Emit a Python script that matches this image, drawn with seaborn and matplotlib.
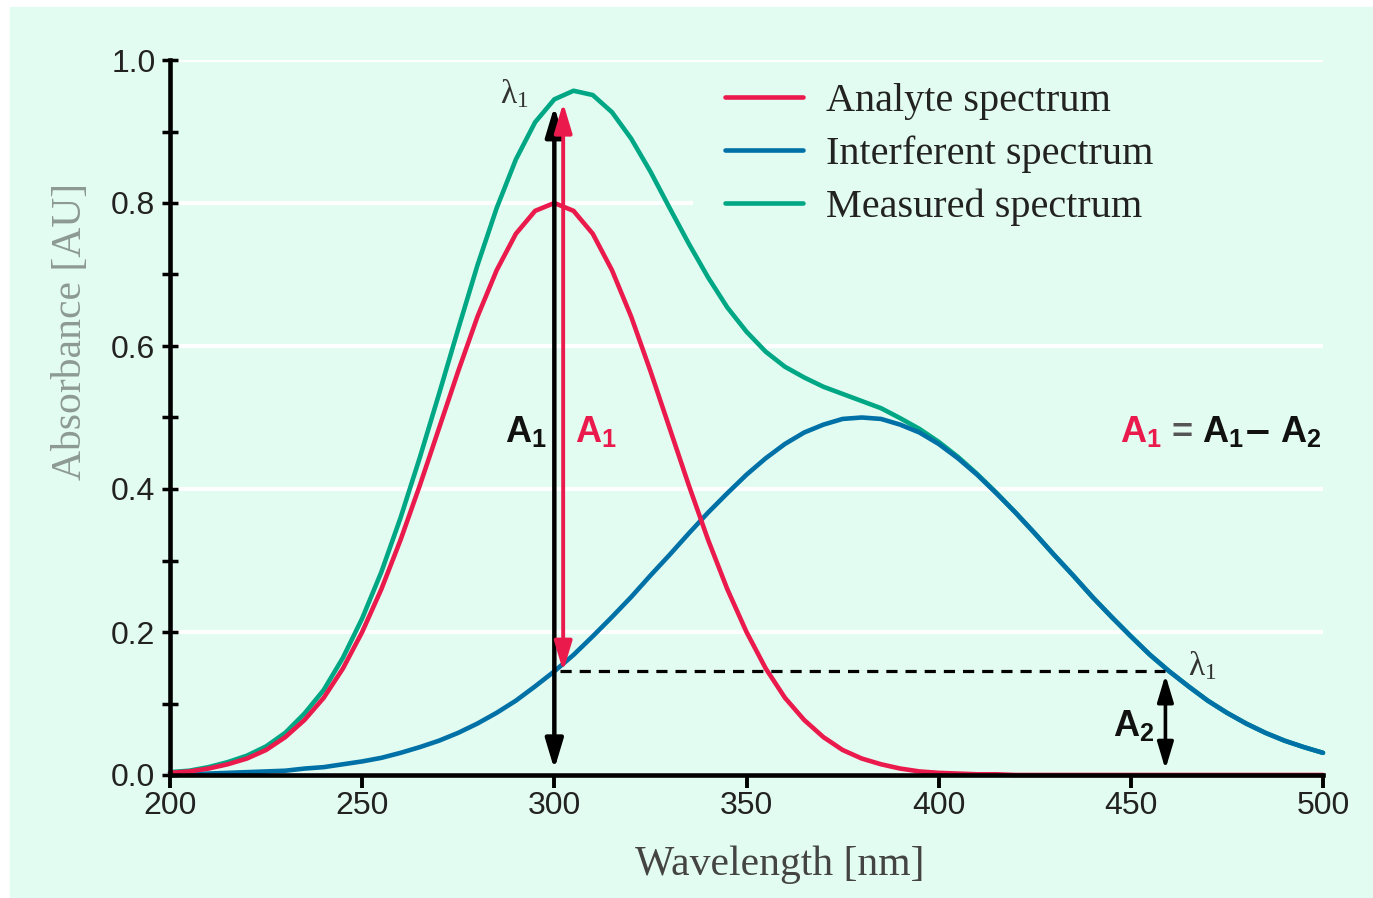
# Analyte / interferent / measured absorbance spectra (two-wavelength correction)

import matplotlib
matplotlib.use("Agg")
import matplotlib.pyplot as plt
from matplotlib.patches import Rectangle
from matplotlib.ticker import MultipleLocator
import numpy as np
import pandas as pd
import seaborn as sns

# ==========================================
# DATA (5 nm steps)
# ==========================================

wavelength = [
    200, 205, 210, 215, 220, 225, 230, 235, 240, 245,
    250, 255, 260, 265, 270, 275, 280, 285, 290, 295,
    300, 305, 310, 315, 320, 325, 330, 335, 340, 345,
    350, 355, 360, 365, 370, 375, 380, 385, 390, 395,
    400, 405, 410, 415, 420, 425, 430, 435, 440, 445,
    450, 455, 460, 465, 470, 475, 480, 485, 490, 495,
    500,
]

analyte = [
    0.003, 0.005, 0.009, 0.015, 0.023, 0.035, 0.053, 0.077, 0.108, 0.149,
    0.200, 0.260, 0.329, 0.405, 0.485, 0.565, 0.641, 0.706, 0.757, 0.789,
    0.800, 0.789, 0.757, 0.706, 0.641, 0.565, 0.485, 0.405, 0.329, 0.260,
    0.200, 0.149, 0.108, 0.077, 0.053, 0.035, 0.023, 0.015, 0.009, 0.005,
    0.003, 0.002, 0.001, 0.001, 0.000, 0.000, 0.000, 0.000, 0.000, 0.000,
    0.000, 0.000, 0.000, 0.000, 0.000, 0.000, 0.000, 0.000, 0.000, 0.000,
    0.000,
]

interferent = [
    0.001, 0.001, 0.002, 0.003, 0.004, 0.005, 0.006, 0.009, 0.011, 0.015,
    0.019, 0.024, 0.031, 0.039, 0.048, 0.059, 0.072, 0.087, 0.104, 0.124,
    0.145, 0.168, 0.194, 0.221, 0.249, 0.279, 0.308, 0.338, 0.367, 0.394,
    0.420, 0.443, 0.463, 0.479, 0.490, 0.498, 0.500, 0.498, 0.490, 0.479,
    0.463, 0.443, 0.420, 0.394, 0.367, 0.338, 0.308, 0.279, 0.249, 0.221,
    0.194, 0.168, 0.145, 0.124, 0.104, 0.087, 0.072, 0.059, 0.048, 0.039,
    0.031,
]

measured = [
    0.004, 0.006, 0.011, 0.018, 0.027, 0.040, 0.059, 0.086, 0.119, 0.164,
    0.219, 0.284, 0.360, 0.444, 0.533, 0.624, 0.713, 0.793, 0.861, 0.913,
    0.945, 0.957, 0.951, 0.927, 0.890, 0.844, 0.793, 0.743, 0.696, 0.654,
    0.620, 0.592, 0.571, 0.556, 0.543, 0.533, 0.523, 0.513, 0.499, 0.484,
    0.466, 0.445, 0.421, 0.395, 0.367, 0.338, 0.308, 0.279, 0.249, 0.221,
    0.194, 0.168, 0.145, 0.124, 0.104, 0.087, 0.072, 0.059, 0.048, 0.039,
    0.031,
]

series_names = ["Analyte spectrum", "Interferent spectrum", "Measured spectrum"]
series_colors = ["#ea1a4c", "#0071a6", "#00a785"]

xtick_values = [200, 250, 300, 350, 400, 450, 500]
xtick_labels = ["200", "250", "300", "350", "400", "450", "500"]
ytick_values = [0.0, 0.2, 0.4, 0.6, 0.8, 1.0]
ytick_labels = ["0.0", "0.2", "0.4", "0.6", "0.8", "1.0"]

# annotation reference points
lambda_1 = 300          # analyte peak wavelength
lambda_2 = 459          # reference wavelength on the interferent tail
a1_top = 0.935          # measured absorbance at lambda_1
a2_level = 0.145        # interferent absorbance at lambda_1 / lambda_2

# ==========================================
# BUILD LONG TABLE
# ==========================================

df = pd.DataFrame({
    "wavelength": wavelength * 3,
    "absorbance": analyte + interferent + measured,
    "series": np.repeat(series_names, len(wavelength)),
})

# ==========================================
# STYLE
# ==========================================

bg = "#e3fcf1"
sans = ["Liberation Sans", "DejaVu Sans"]

sns.set_theme(style="white")
plt.rcParams["font.family"] = ["Liberation Serif", "DejaVu Serif"]
plt.rcParams["mathtext.fontset"] = "custom"
plt.rcParams["mathtext.rm"] = "Liberation Serif"
plt.rcParams["mathtext.it"] = "Liberation Serif:italic"
plt.rcParams["mathtext.bf"] = "Liberation Sans:bold"
plt.rcParams["mathtext.fallback"] = "stix"

fig = plt.figure(figsize=(13.73, 8.98), dpi=100)
fig.patches.append(Rectangle((10 / 1373, 0), 1 - 10 / 1373, 1 - 7 / 898,
                             transform=fig.transFigure, color=bg, zorder=-1))

ax = fig.add_axes([170 / 1373, 123 / 898, 1153 / 1373, 715 / 898])
ax.set_facecolor(bg)

# ==========================================
# CURVES
# ==========================================

draw_order = ["Measured spectrum", "Interferent spectrum", "Analyte spectrum"]
palette = dict(zip(series_names, series_colors))

for name in draw_order:
    sns.lineplot(
        data=df[df["series"] == name],
        x="wavelength",
        y="absorbance",
        color=palette[name],
        linewidth=3.3,
        label=name,
        errorbar=None,
        ax=ax,
        clip_on=False,
    )

handles, labels = ax.get_legend_handles_labels()
order = [labels.index(n) for n in series_names]
ax.legend(
    [handles[i] for i in order],
    [labels[i] for i in order],
    loc="upper left",
    bbox_to_anchor=(0.4813, 0.968),
    frameon=False,
    fontsize=29,
    labelcolor="#222222",
    handlelength=1.93,
    handletextpad=0.57,
    labelspacing=0.38,
    borderpad=0,
    borderaxespad=0,
)

# patch behind the legend that hides the gridline
ax.add_patch(Rectangle((0.4536, 0.762), 0.56, 0.224, transform=ax.transAxes,
                       facecolor=bg, edgecolor="none", zorder=1, clip_on=False))

# ==========================================
# ANNOTATIONS
# ==========================================

head = "<|-|>,head_length=0.9,head_width=0.27"

ax.annotate("", xy=(lambda_1, a1_top), xytext=(lambda_1, 0.008),
            arrowprops=dict(arrowstyle=head, lw=3.2, color="black",
                            shrinkA=0, shrinkB=0, mutation_scale=20))

ax.annotate("", xy=(lambda_1 + 2.3, a1_top + 0.005), xytext=(lambda_1 + 2.3, a2_level),
            arrowprops=dict(arrowstyle=head, lw=2.8, color=series_colors[0],
                            shrinkA=0, shrinkB=0, mutation_scale=20))

ax.annotate("", xy=(lambda_2, a2_level - 0.005), xytext=(lambda_2, 0.008),
            arrowprops=dict(arrowstyle=head, lw=2.6, color="black",
                            shrinkA=0, shrinkB=0, mutation_scale=18))

ax.plot([lambda_1 + 1.5, lambda_2], [a2_level, a2_level],
        color="black", lw=2.3, ls=(0, (3.5, 2.5)), zorder=3)

ax.text(285.9, 0.94, r"$\mathrm{\lambda}_\mathrm{1}$", fontsize=24, color="#333333",
        va="baseline", ha="left")
ax.text(464.9, 0.14, r"$\mathrm{\lambda}_\mathrm{1}$", fontsize=24, color="#333333",
        va="baseline", ha="left")

ax.text(287.2, 0.465, r"$\mathbf{A}_\mathbf{1}$", fontsize=26, color="#111111",
        va="baseline", ha="left")
ax.text(305.4, 0.465, r"$\mathbf{A}_\mathbf{1}$", fontsize=26, color=series_colors[0],
        va="baseline", ha="left")
ax.text(445.4, 0.053, r"$\mathbf{A}_\mathbf{2}$", fontsize=26, color="#111111",
        va="baseline", ha="left")

# A1 = A1 - A2, placed piece by piece
ax.text(447.3, 0.465, r"$\mathbf{A}_\mathbf{1}$", fontsize=26, color=series_colors[0],
        va="baseline", ha="left")
ax.text(460.6, 0.465, "=", fontsize=26, color="#555555", family=sans,
        fontweight="bold", va="baseline", ha="left")
ax.text(468.4, 0.465, r"$\mathbf{A}_\mathbf{1}$", fontsize=26, color="#111111",
        va="baseline", ha="left")
ax.text(479.8, 0.465, "\u2013", fontsize=31, color="#111111", family=sans,
        fontweight="bold", va="baseline", ha="left")
ax.text(488.8, 0.465, r"$\mathbf{A}_\mathbf{2}$", fontsize=26, color="#111111",
        va="baseline", ha="left")

# ==========================================
# AXES
# ==========================================

ax.set_xlim(200, 500)
ax.set_ylim(0, 1.0)

ax.set_xticks(xtick_values, labels=xtick_labels, fontfamily=sans, fontsize=23,
              color="#222222")
ax.set_yticks(ytick_values, labels=ytick_labels, fontfamily=sans, fontsize=23,
              color="#222222")
ax.yaxis.set_minor_locator(MultipleLocator(0.1))

ax.tick_params(axis="y", which="both", direction="inout", length=12, width=2.5,
               color="black", pad=4.5, left=True)
ax.tick_params(axis="x", which="major", direction="out", length=9.5, width=2.8,
               color="black", pad=2, bottom=True)

ax.set_axisbelow(True)
ax.yaxis.grid(True, which="major", color="white", lw=3.0)
ax.xaxis.grid(False)

sns.despine(ax=ax)
for side in ["left", "bottom"]:
    ax.spines[side].set_linewidth(3.3)
    ax.spines[side].set_color("black")
    ax.spines[side].set_zorder(4)

ax.set_xlabel("Wavelength [nm]", fontsize=30, color="#444444")
ax.set_ylabel("Absorbance [AU]", fontsize=30, color="#8c9a93")
ax.xaxis.set_label_coords(0.529, -0.098)
ax.yaxis.set_label_coords(-0.069, 0.62)

fig.savefig("out.png", dpi=100, facecolor="white")
